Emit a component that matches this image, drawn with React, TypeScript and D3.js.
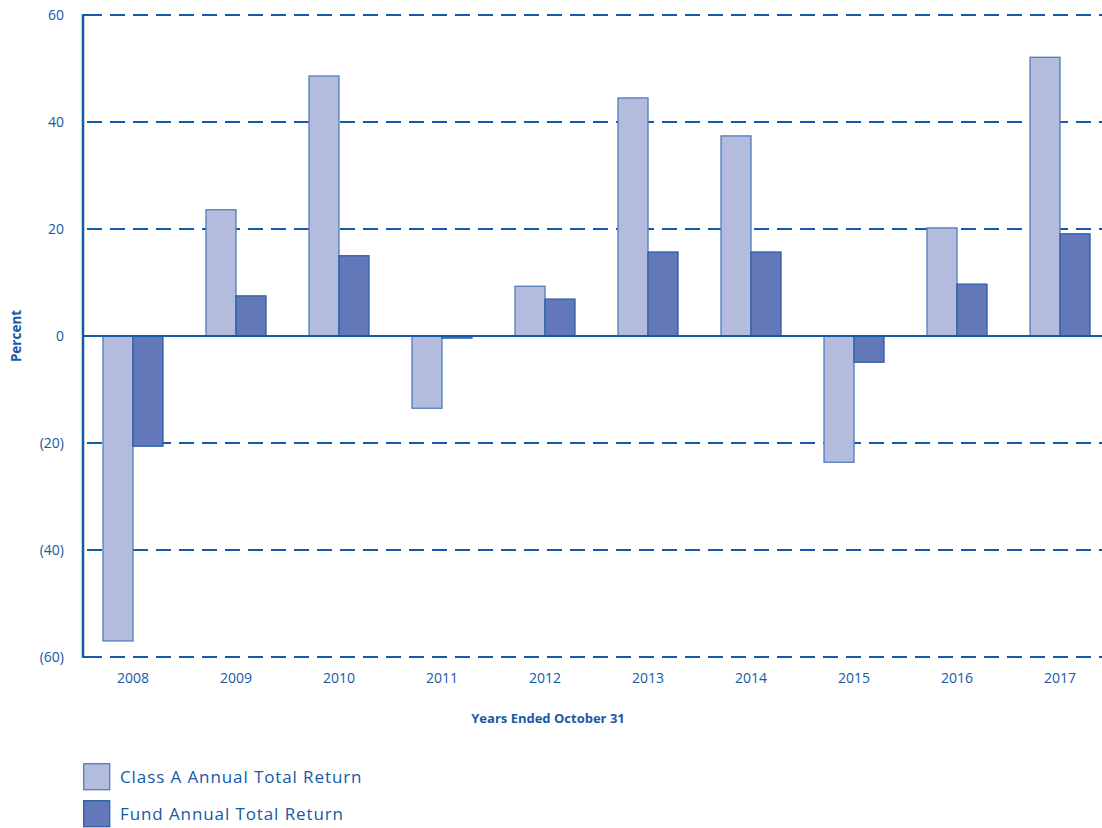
import * as d3 from "d3";

const years = ["2008", "2009", "2010", "2011", "2012", "2013", "2014", "2015", "2016", "2017"];
const classA = [-57.0, 23.6, 48.6, -13.5, 9.3, 44.5, 37.4, -23.6, 20.2, 52.1];
const fund = [-20.6, 7.5, 15.0, -0.4, 6.9, 15.7, 15.7, -4.9, 9.7, 19.1];
const yTicks = [60, 40, 20, 0, -20, -40, -60];
const seriesNames = ["Class A Annual Total Return", "Fund Annual Total Return"];

export default function App() {
  const width = 1102;
  const height = 828;
  const marginLeft = 83;
  const marginTop = 15;
  const plotBottom = 657;
  const blue = "#1659a6";
  const lightFill = "#b3bcdd";
  const darkFill = "#6278b9";
  const font = "'Open Sans', sans-serif";

  const x = d3
    .scaleBand()
    .domain(years)
    .range([marginLeft, 1110])
    .paddingInner(0.4175)
    .paddingOuter(0.194);

  const xInner = d3
    .scaleBand()
    .domain(["a", "f"])
    .range([0, x.bandwidth()]);

  const y = d3.scaleLinear().domain([-60, 60]).range([plotBottom, marginTop]);

  const bars = years.flatMap((yr, i) => [
    { key: yr + "a", x: x(yr)! + xInner("a")!, v: classA[i], fill: lightFill, stroke: "#4f7dbd" },
    { key: yr + "f", x: x(yr)! + xInner("f")!, v: fund[i], fill: darkFill, stroke: "#2c5ea8" },
  ]);

  return (
    <svg
      width={width}
      height={height}
      style={{ position: "absolute", left: 0, top: 0, background: "#fff" }}
    >
      {/* gridlines */}
      {yTicks
        .filter((t) => t !== 0)
        .map((t) => (
          <line
            key={t}
            x1={marginLeft}
            x2={width}
            y1={y(t)}
            y2={y(t)}
            stroke={blue}
            strokeWidth={2}
            strokeDasharray="15 8"
            strokeDashoffset={-4}
          />
        ))}
      {/* corner caps for top and bottom */}
      <line x1={marginLeft} x2={marginLeft + 8} y1={y(60)} y2={y(60)} stroke={blue} strokeWidth={2} />
      <line x1={marginLeft} x2={marginLeft + 8} y1={y(-60)} y2={y(-60)} stroke={blue} strokeWidth={2} />

      {/* bars */}
      {bars.map((b) => (
        <rect
          key={b.key}
          x={b.x}
          y={y(Math.max(0, b.v))}
          width={xInner.bandwidth()}
          height={Math.abs(y(b.v) - y(0))}
          fill={b.fill}
          stroke={b.stroke}
          strokeWidth={1.3}
        />
      ))}

      {/* zero line */}
      <line x1={marginLeft} x2={width} y1={y(0)} y2={y(0)} stroke={blue} strokeWidth={2} />
      {/* y axis */}
      <line x1={marginLeft} x2={marginLeft} y1={y(60) - 1} y2={y(-60) + 1} stroke={blue} strokeWidth={2.5} />

      {/* y tick labels */}
      {yTicks.map((t) => (
        <text
          key={t}
          x={64}
          y={y(t)}
          dy="0.35em"
          textAnchor="end"
          fontFamily={font}
          fontSize={14}
          fill={blue}
        >
          {t < 0 ? `(${-t})` : t}
        </text>
      ))}

      {/* x tick labels */}
      {years.map((yr) => (
        <text
          key={yr}
          x={x(yr)! + x.bandwidth() / 2}
          y={683}
          textAnchor="middle"
          fontFamily={font}
          fontSize={14}
          fill={blue}
        >
          {yr}
        </text>
      ))}

      <text
        transform={`translate(21, ${y(0)}) rotate(-90)`}
        textAnchor="middle"
        fontFamily={font}
        fontWeight="bold"
        fontSize={13.5}
        fill={blue}
      >
        Percent
      </text>
      <text
        x={548}
        y={723}
        textAnchor="middle"
        fontFamily={font}
        fontWeight="bold"
        fontSize={13}
        fill={blue}
      >
        Years Ended October 31
      </text>

      {/* legend */}
      {seriesNames.map((name, i) => (
        <g key={name} transform={`translate(83, ${763 + i * 37})`}>
          <rect
            x={0.7}
            y={0.7}
            width={26}
            height={26}
            fill={i === 0 ? lightFill : darkFill}
            stroke={i === 0 ? "#4f7dbd" : "#2c5ea8"}
            strokeWidth={1.3}
          />
          <text
            x={37}
            y={20}
            fontFamily={font}
            fontSize={17}
            letterSpacing={0.9}
            fill={blue}
          >
            {name}
          </text>
        </g>
      ))}
    </svg>
  );
}
